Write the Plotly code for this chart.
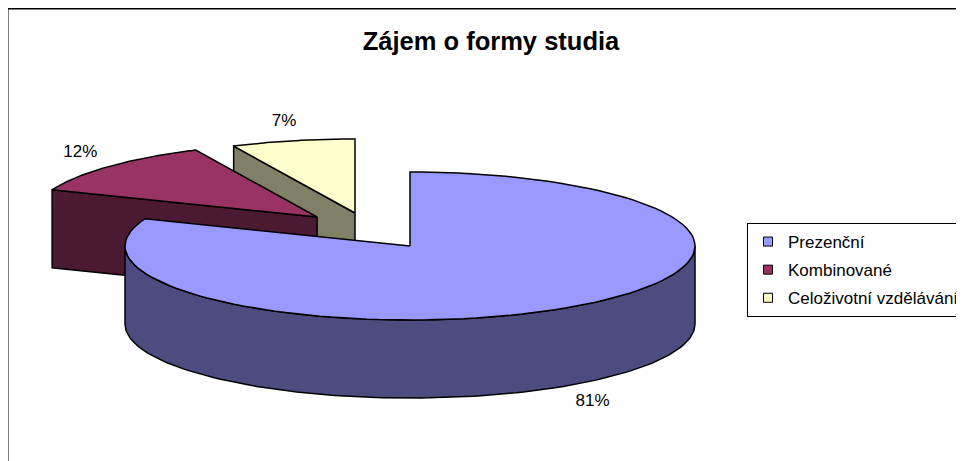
import numpy as np
import plotly.graph_objects as go

# ---- data ----
categories = ["Prezenční", "Kombinované", "Celoživotní vzdělávání"]
values = [81, 12, 7]
title_text = "Zájem o formy studia"

# ---- style ----
top_colors = ["#9999FF", "#993366", "#FFFFCC"]
side_colors = ["#4C4C80", "#4C1933", "#808066"]
explode_x = [0.0, -0.326, -0.193]   # explosion offsets (fraction of radii)
explode_y = [0.0, -0.392, -0.446]

W, H = 964, 461
OFF = 8  # page body margin compensation
CX, CY, RX, RY, DEPTH = 410, 246, 285, 74, 78
LBL_KX, LBL_KY = 1.14, 1.27
FONT = "Arial, Liberation Sans, sans-serif"

total = float(sum(values))
fracs = [v / total for v in values]
starts = np.concatenate([[0.0], np.cumsum(fracs)[:-1]]) * 360.0
ends = starts + np.array(fracs) * 360.0


def arc(ax, ay, a0, a1, dz=0.0, n=120):
    t = np.radians(np.linspace(a0, a1, n))
    return list(ax + RX * np.sin(t)), list(ay - RY * np.cos(t) + dz)


def outer(ax, ay, a, dz=0.0):
    r = np.radians(a)
    return ax + RX * np.sin(r), ay - RY * np.cos(r) + dz


fig = go.Figure()

slices = []
for i in range(len(values)):
    ax = CX + explode_x[i] * RX
    ay = CY + explode_y[i] * RY
    mid = (starts[i] + ends[i]) / 2.0
    depth_key = ay - RY * np.cos(np.radians(mid))
    slices.append((depth_key, i, ax, ay, mid))
slices.sort()


def poly(xs, ys, color):
    fig.add_trace(go.Scatter(
        x=xs + [xs[0]], y=ys + [ys[0]], mode="lines", fill="toself",
        fillcolor=color, line=dict(color="black", width=1.5),
        hoverinfo="skip", showlegend=False))


for _, i, ax, ay, mid in slices:
    a0, a1 = starts[i], ends[i]
    if np.sin(np.radians(a0)) < -1e-6:
        ox, oy = outer(ax, ay, a0)
        poly([ax, ox, ox, ax], [ay, oy, oy + DEPTH, ay + DEPTH], side_colors[i])
    if np.sin(np.radians(a1)) > 1e-6:
        ox, oy = outer(ax, ay, a1)
        poly([ax, ox, ox, ax], [ay, oy, oy + DEPTH, ay + DEPTH], side_colors[i])
    t0, t1 = max(a0, 90.0), min(a1, 270.0)
    if t1 > t0:
        xt, yt = arc(ax, ay, t0, t1)
        xb, yb = arc(ax, ay, t1, t0, DEPTH)
        poly(xt + xb, yt + yb, side_colors[i])
    xt, yt = arc(ax, ay, a0, a1)
    poly([ax] + xt, [ay] + yt, top_colors[i])

# percentage labels
lx, ly, lt = [], [], []
for _, i, ax, ay, mid in slices:
    r = np.radians(mid)
    c = np.cos(r)
    lx.append(ax + LBL_KX * RX * np.sin(r))
    ly.append(ay - LBL_KY * RY * c + (DEPTH if c < 0 else 0))
    lt.append(f"{round(fracs[i] * 100)}%")
fig.add_trace(go.Scatter(x=lx, y=ly, text=lt, mode="text",
                         textposition="middle center",
                         textfont=dict(family=FONT, size=17, color="black"),
                         hoverinfo="skip", showlegend=False))

# legend entries
for i, name in enumerate(categories):
    fig.add_trace(go.Scatter(
        x=[None], y=[None], mode="markers", name=name, legendgroup=name,
        marker=dict(symbol="square", size=9, color=top_colors[i],
                    line=dict(color="black", width=1))))

fig.update_layout(
    width=W, height=H,
    margin=dict(l=0, r=0, t=0, b=0),
    paper_bgcolor="white", plot_bgcolor="white",
    xaxis=dict(range=[OFF, W + OFF], visible=False, fixedrange=True),
    yaxis=dict(range=[H + OFF, OFF], visible=False, fixedrange=True),
    title=dict(text="<b>" + title_text + "</b>", x=(491 - OFF) / W, xanchor="center",
               y=1 - (41 - OFF) / H, yanchor="middle", yref="container",
               font=dict(family=FONT, size=25.5, color="black")),
    legend=dict(x=(747 - OFF) / W, xanchor="left", y=1 - (223 - OFF) / H, yanchor="top",
                bordercolor="black", borderwidth=1, bgcolor="white",
                traceorder="grouped", tracegroupgap=3,
                font=dict(family=FONT, size=17, color="black")),
    shapes=[dict(type="path", xref="x", yref="y",
                 path=f"M 7.5 {H + 20} L 7.5 8.5 L {W + 20} 8.5",
                 line=dict(color="black", width=2))],
)

fig.write_html("out.html")
